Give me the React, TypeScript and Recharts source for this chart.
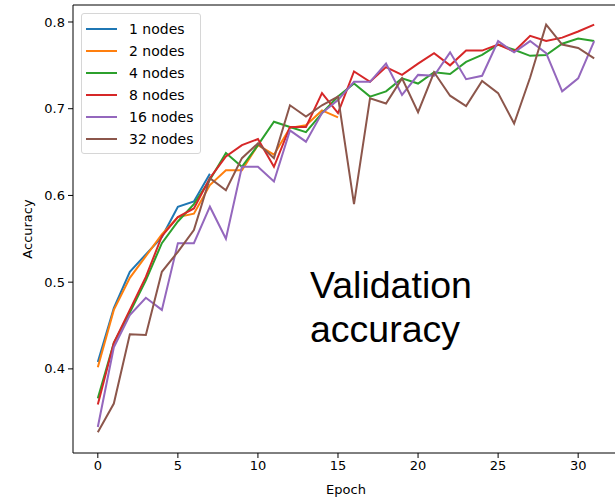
import {
  CartesianGrid,
  Legend,
  Line,
  LineChart,
  ReferenceLine,
  XAxis,
  YAxis,
} from "recharts";

const epochs = [
  0, 1, 2, 3, 4, 5, 6, 7, 8, 9, 10, 11, 12, 13, 14, 15, 16, 17, 18, 19, 20, 21,
  22, 23, 24, 25, 26, 27, 28, 29, 30, 31,
];

const nodes1 = [0.408, 0.47, 0.512, 0.532, 0.552, 0.587, 0.593, 0.625];
const nodes2 = [
  0.402, 0.468, 0.505, 0.53, 0.555, 0.575, 0.579, 0.612, 0.629, 0.629, 0.658,
  0.647, 0.678, 0.681, 0.698, 0.69,
];
const nodes4 = [
  0.366, 0.43, 0.465, 0.502, 0.545, 0.57, 0.59, 0.618, 0.649, 0.633, 0.658,
  0.685, 0.679, 0.673, 0.695, 0.714, 0.729, 0.714, 0.72, 0.735, 0.729, 0.742,
  0.74, 0.754, 0.762, 0.774, 0.768, 0.761, 0.762, 0.775, 0.781, 0.778,
];
const nodes8 = [
  0.359, 0.43, 0.468, 0.506, 0.553, 0.575, 0.585, 0.62, 0.645, 0.658, 0.665,
  0.633, 0.679, 0.679, 0.718, 0.695, 0.743, 0.731, 0.748, 0.739, 0.752, 0.764,
  0.75, 0.767, 0.767, 0.774, 0.766, 0.784, 0.778, 0.782, 0.789, 0.797,
];
const nodes16 = [
  0.333, 0.425, 0.462, 0.482, 0.468, 0.545, 0.545, 0.587, 0.55, 0.633, 0.633,
  0.616, 0.675, 0.662, 0.695, 0.71, 0.731, 0.731, 0.752, 0.716, 0.739, 0.738,
  0.765, 0.734, 0.738, 0.778, 0.765, 0.778, 0.764, 0.72, 0.735, 0.778,
];
const nodes32 = [
  0.327, 0.36, 0.44, 0.439, 0.512, 0.535, 0.56, 0.62, 0.606, 0.643, 0.66,
  0.643, 0.704, 0.691, 0.704, 0.714, 0.59, 0.712, 0.706, 0.735, 0.696, 0.742,
  0.715, 0.703, 0.732, 0.718, 0.683, 0.736, 0.797, 0.774, 0.77, 0.758,
];

const seriesNames = ["1 nodes", "2 nodes", "4 nodes", "8 nodes", "16 nodes", "32 nodes"];
const seriesValues = [nodes1, nodes2, nodes4, nodes8, nodes16, nodes32];
const colors = ["#1f77b4", "#ff7f0e", "#2ca02c", "#d62728", "#9467bd", "#8c564b"];

const xTicks = [0, 5, 10, 15, 20, 25, 30];
const yTicks = [0.4, 0.5, 0.6, 0.7, 0.8];

const data = epochs.map((epoch, i) => {
  const row: Record<string, number | undefined> = { epoch };
  seriesNames.forEach((name, s) => {
    row[name] = seriesValues[s][i];
  });
  return row;
});

const FONT = "'DejaVu Sans', sans-serif";
const Y_TOP = 0.8196;

const LegendBox = () => (
  <div
    style={{
      background: "#fff",
      border: "1px solid #d6d6d6",
      borderRadius: 3,
      padding: "4px 6px 3px 4px",
      fontFamily: FONT,
      fontSize: 14,
      color: "#000",
    }}
  >
    {seriesNames.map((name, i) => (
      <div
        key={name}
        style={{ display: "flex", alignItems: "center", height: 22 }}
      >
        <span
          style={{
            display: "inline-block",
            width: 31,
            height: 2,
            background: colors[i],
            marginRight: 12,
          }}
        />
        <span>{name}</span>
      </div>
    ))}
  </div>
);

export default function App() {
  return (
    <div
      style={{
        position: "absolute",
        left: 0,
        top: 0,
        width: 615,
        height: 498,
        overflow: "hidden",
        background: "#fff",
      }}
    >
      <LineChart
        width={625}
        height={498}
        data={data}
        margin={{ top: 5, right: 6, bottom: 0, left: 0 }}
      >
        <CartesianGrid stroke="none" />
        <XAxis
          dataKey="epoch"
          type="number"
          domain={[-1.55, 32.55]}
          ticks={xTicks}
          allowDataOverflow
          height={45}
          tickSize={5}
          tickMargin={3}
          stroke="#000"
          tick={{ fill: "#000", fontSize: 13, fontFamily: FONT }}
          label={{
            value: "Epoch",
            position: "insideBottom",
            offset: 4,
            style: { fill: "#000", fontSize: 13, fontFamily: FONT },
          }}
        />
        <YAxis
          type="number"
          domain={[0.303, Y_TOP]}
          ticks={yTicks}
          allowDataOverflow
          width={73}
          tickSize={5}
          tickMargin={3}
          stroke="#000"
          tickFormatter={(v: number) => v.toFixed(1)}
          tick={{ fill: "#000", fontSize: 13, fontFamily: FONT }}
          label={{
            value: "Accuracy",
            angle: -90,
            position: "insideLeft",
            offset: 27,
            style: {
              fill: "#000",
              fontSize: 13,
              fontFamily: FONT,
              textAnchor: "middle",
            },
          }}
        />
        <ReferenceLine y={Y_TOP} stroke="#000" strokeWidth={1} ifOverflow="visible" />
        {seriesNames.map((name, i) => (
          <Line
            key={name}
            dataKey={name}
            stroke={colors[i]}
            strokeWidth={2}
            dot={false}
            isAnimationActive={false}
            type="linear"
          />
        ))}
        <Legend
          layout="vertical"
          align="center"
          verticalAlign="middle"
          content={<LegendBox />}
          wrapperStyle={{ left: 81, top: 13, width: "auto", height: "auto" }}
        />
      </LineChart>
      <div
        style={{
          position: "absolute",
          left: 310,
          top: 263,
          fontFamily: "'Liberation Sans', Arial, sans-serif",
          fontSize: 37.5,
          lineHeight: "44px",
          color: "#000",
        }}
      >
        Validation
        <br />
        accuracy
      </div>
    </div>
  );
}
